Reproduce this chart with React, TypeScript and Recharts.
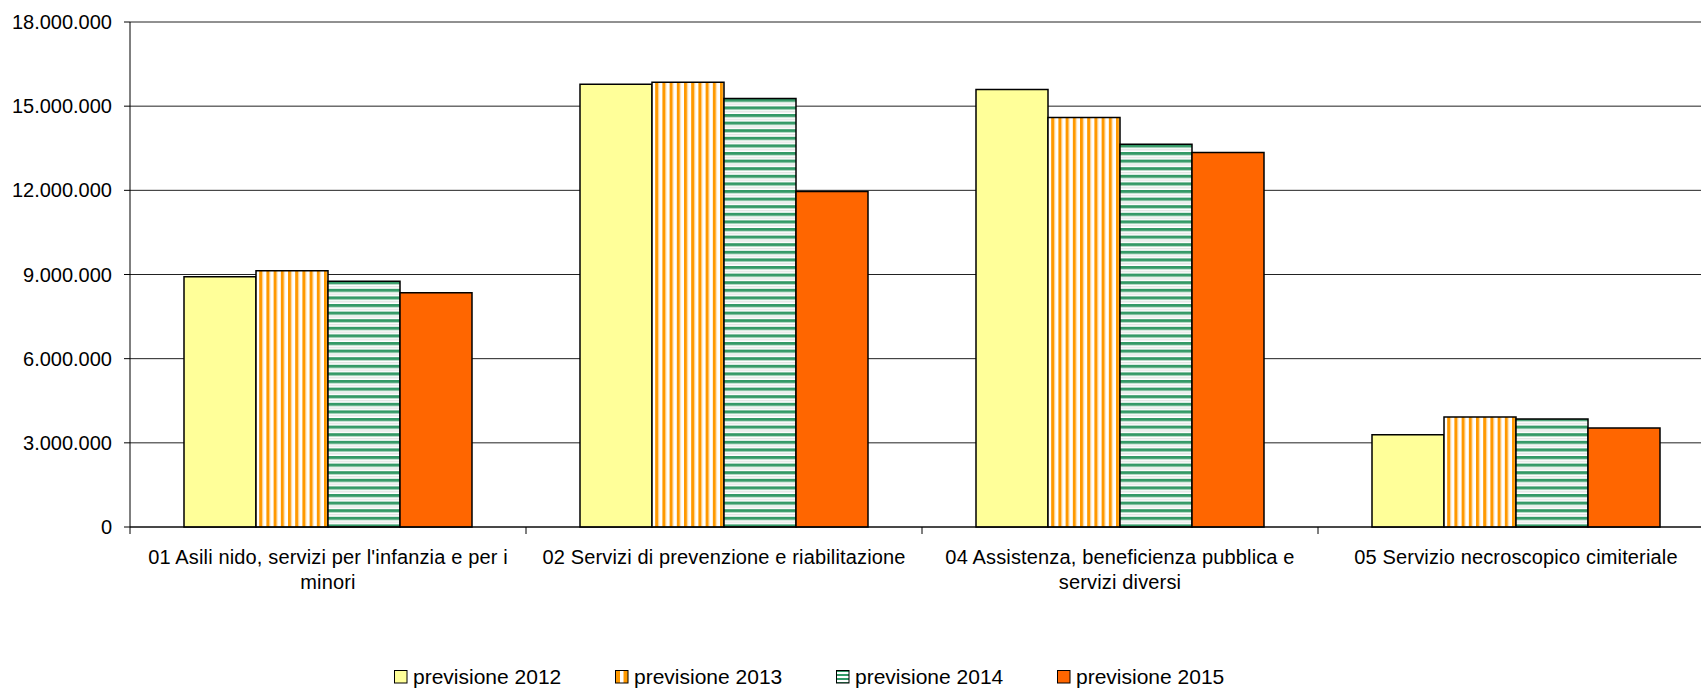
import React from 'react';
import { BarChart, Bar, XAxis, YAxis, CartesianGrid, Legend } from 'recharts';

const categories = [
  "01 Asili nido, servizi per l'infanzia e per i minori",
  '02 Servizi di prevenzione e riabilitazione',
  '04 Assistenza, beneficienza pubblica e servizi diversi',
  '05 Servizio necroscopico cimiteriale',
];
const previsione2012 = [8920000, 15780000, 15590000, 3290000];
const previsione2013 = [9135000, 15850000, 14600000, 3920000];
const previsione2014 = [8757000, 15270000, 13640000, 3850000];
const previsione2015 = [8351000, 11960000, 13350000, 3530000];
const yTicks = [0, 3000000, 6000000, 9000000, 12000000, 15000000, 18000000];
const seriesNames = ['previsione 2012', 'previsione 2013', 'previsione 2014', 'previsione 2015'];

const data = categories.map((c, i) => ({
  name: c,
  p2012: previsione2012[i],
  p2013: previsione2013[i],
  p2014: previsione2014[i],
  p2015: previsione2015[i],
}));

const FONT = '"Liberation Sans", Arial, sans-serif';
const CHART_W = 1720;
const CHART_H = 688;
const MARGIN = { top: 22, right: 6, left: 0, bottom: 0 };
const Y_W = 130;
const PLOT_W = CHART_W - MARGIN.left - MARGIN.right - Y_W;
const BAND = PLOT_W / categories.length;
const X_FONT = 20;

const fmt = (v: number) => String(v).replace(/\B(?=(\d{3})+(?!\d))/g, '.');

const fills = ['#FFFF99', 'url(#p2013)', 'url(#p2014)', '#FF6600'];
const legendFills = ['#FFFF99', 'url(#l2013)', 'url(#l2014)', '#FF6600'];

let measureCtx: CanvasRenderingContext2D | null = null;
const measure = (s: string) => {
  if (!measureCtx) {
    const c = document.createElement('canvas');
    measureCtx = c.getContext('2d');
  }
  if (!measureCtx) return s.length * X_FONT * 0.5;
  measureCtx.font = `${X_FONT}px ${FONT}`;
  return measureCtx.measureText(s).width;
};

const wrap = (text: string, maxW: number) => {
  const words = text.split(' ');
  const lines: string[] = [];
  let cur = '';
  words.forEach((w) => {
    const next = cur ? cur + ' ' + w : w;
    if (cur && measure(next) > maxW) {
      lines.push(cur);
      cur = w;
    } else {
      cur = next;
    }
  });
  if (cur) lines.push(cur);
  return lines;
};

const XTick = (props: any) => {
  const { x, y, payload, index } = props;
  const last = index === categories.length - 1;
  const lines = wrap(String(payload.value), BAND - 24);
  return (
    <g>
      <line x1={x - BAND / 2} x2={x - BAND / 2} y1={y} y2={y + 7} stroke="#000" strokeWidth={1} />
      {last && <line x1={x + BAND / 2} x2={x + BAND / 2} y1={y} y2={y + 7} stroke="#000" strokeWidth={1} />}
      <text
        x={x}
        y={y + 37.3}
        textAnchor="middle"
        fill="#000"
        style={{ fontSize: X_FONT, fontFamily: FONT, letterSpacing: '0.15px' }}
      >
        {lines.map((l, i) => (
          <tspan key={i} x={x} dy={i === 0 ? 0 : 24.7}>
            {l}
          </tspan>
        ))}
      </text>
    </g>
  );
};

const LegendContent = () => (
  <div style={{ display: 'flex', height: 22, alignItems: 'center', fontFamily: FONT, fontSize: 21, color: '#000' }}>
    {seriesNames.map((n, i) => (
      <div key={n} style={{ display: 'flex', alignItems: 'center', width: 221, height: 22 }}>
        <svg width={14} height={14} style={{ marginRight: 5, flex: 'none' }}>
          <rect x={0.5} y={0.5} width={12.5} height={12.5} fill={legendFills[i]} stroke="#000" strokeWidth={1} />
        </svg>
        <span style={{ whiteSpace: 'nowrap', lineHeight: '22px' }}>{n}</span>
      </div>
    ))}
  </div>
);

export default function App() {
  return (
    <div style={{ position: 'fixed', left: 0, top: 0, width: 1701, height: 688, overflow: 'hidden', background: '#fff' }}>
      <BarChart
        width={CHART_W}
        height={CHART_H}
        data={data}
        margin={MARGIN}
        barCategoryGap={54}
        barGap={0}
        style={{ fontFamily: FONT }}
      >
        <defs>
          <pattern id="p2013" patternUnits="userSpaceOnUse" width={7.2} height={8}>
            <rect x={0} y={0} width={7.2} height={8} fill="#FFFFFF" />
            <rect x={0} y={0} width={3.2} height={8} fill="#FF9900" />
            <rect x={3.2} y={0} width={0.8} height={8} fill="#FFD9A0" />
          </pattern>
          <pattern id="p2014" patternUnits="userSpaceOnUse" width={8} height={7.6}>
            <rect x={0} y={0} width={8} height={7.6} fill="#FFFFFF" />
            <rect x={0} y={0} width={8} height={2.8} fill="#339966" />
            <rect x={0} y={2.8} width={8} height={0.8} fill="#A8D3BC" />
            <rect x={0} y={5} width={8} height={1} fill="#D8DCDA" />
          </pattern>
          <pattern id="l2013" patternUnits="userSpaceOnUse" width={14} height={14}>
            <rect x={0} y={0} width={14} height={14} fill="#FF9900" />
            <rect x={5} y={0} width={3.5} height={14} fill="#FFFFFF" />
          </pattern>
          <pattern id="l2014" patternUnits="userSpaceOnUse" width={14} height={4}>
            <rect x={0} y={0} width={14} height={4} fill="#FFFFFF" />
            <rect x={0} y={0} width={14} height={2} fill="#339966" />
          </pattern>
        </defs>
        <CartesianGrid vertical={false} stroke="#222" strokeWidth={1} />
        <XAxis
          dataKey="name"
          interval={0}
          height={139}
          tickLine={false}
          tickSize={0}
          tickMargin={0}
          axisLine={{ stroke: '#000', strokeWidth: 1 }}
          tick={<XTick />}
        />
        <YAxis
          width={Y_W}
          domain={[0, 18000000]}
          ticks={yTicks}
          tickFormatter={fmt}
          tickSize={6}
          tickMargin={12}
          tickLine={{ stroke: '#000' }}
          axisLine={{ stroke: '#000', strokeWidth: 1 }}
          tick={{ fill: '#000', fontSize: 20, fontFamily: FONT }}
          interval={0}
        />
        <Legend
          verticalAlign="bottom"
          height={22}
          content={<LegendContent />}
          wrapperStyle={{ left: 394, top: 666, bottom: 'auto', width: 900, height: 22 }}
        />
        <Bar dataKey="p2012" name={seriesNames[0]} fill={fills[0]} stroke="#000" strokeWidth={1.5} isAnimationActive={false} />
        <Bar dataKey="p2013" name={seriesNames[1]} fill={fills[1]} stroke="#000" strokeWidth={1.5} isAnimationActive={false} />
        <Bar dataKey="p2014" name={seriesNames[2]} fill={fills[2]} stroke="#000" strokeWidth={1.5} isAnimationActive={false} />
        <Bar dataKey="p2015" name={seriesNames[3]} fill={fills[3]} stroke="#000" strokeWidth={1.5} isAnimationActive={false} />
      </BarChart>
    </div>
  );
}
